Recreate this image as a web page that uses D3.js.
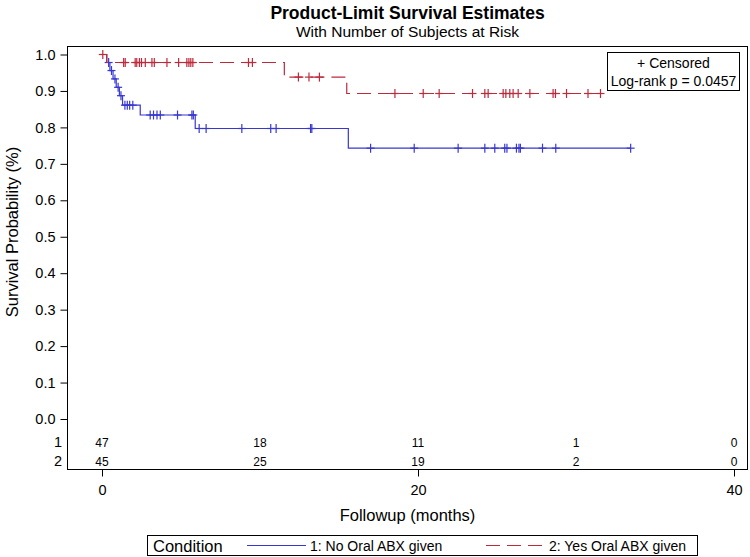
<!DOCTYPE html>
<html>
<head>
<meta charset="utf-8">
<script src="https://cdn.jsdelivr.net/npm/d3@7"></script>
<style>
  html, body { margin: 0; padding: 0; background: #fff; }
  svg { display: block; font-family: "Liberation Sans", Arial, sans-serif; }
</style>
</head>
<body>
<svg id="chart" width="750" height="557"></svg>
<script>
// ---------- data ----------
const groups = ["1: No Oral ABX given", "2: Yes Oral ABX given"];

// group 1 (No Oral ABX): event times and survival after each event
const noEventTimes = [0.3, 0.5, 0.7, 0.9, 1.1, 1.3, 2.42, 5.9, 15.59];
const noSurvival   = [0.978, 0.956, 0.933, 0.91, 0.887, 0.861, 0.834, 0.797, 0.743];
const noCensorTimes = [0.42, 0.6, 0.82, 1.02, 1.2, 1.45, 1.6, 1.75, 1.95,
  3.05, 3.26, 3.48, 3.69, 4.78, 5.69, 5.78, 6.15, 6.59, 8.85, 10.68, 11.02,
  13.2, 13.28, 17.0, 19.76, 22.54, 24.23, 24.86, 25.49, 25.63, 26.23, 26.39,
  26.48, 27.88, 28.72, 33.46];

// group 2 (Yes Oral ABX)
const yesEventTimes = [0.3, 11.54, 15.49];
const yesSurvival   = [0.978, 0.938, 0.893];
const yesCensorTimes = [0.05, 1.37, 1.47, 2.1, 2.2, 2.37, 2.5, 2.74, 3.16, 3.31,
  4.11, 4.85, 5.37, 5.5, 5.62, 5.75, 9.27, 9.52, 12.43, 13.1, 13.76, 18.54,
  20.33, 21.34, 23.45, 24.23, 24.44, 25.39, 25.56, 25.81, 26.02, 26.34, 27.08,
  28.55, 28.7, 29.4, 30.76, 31.55];

// number at risk table
const riskTimes = [0, 10, 20, 30, 40];
const riskNo  = [47, 18, 11, 1, 0];
const riskYes = [45, 25, 19, 2, 0];
const riskLabels = ["1", "2"];

const xTicks = [0, 20, 40];
const yTicks = [0, 0.1, 0.2, 0.3, 0.4, 0.5, 0.6, 0.7, 0.8, 0.9, 1.0];

const titleText = "Product-Limit Survival Estimates";
const subtitleText = "With Number of Subjects at Risk";
const xLabel = "Followup (months)";
const yLabel = "Survival Probability (%)";
const legendTitle = "Condition";
const insetLines = ["+ Censored", "Log-rank p = 0.0457"];

// ---------- layout ----------
const svg = d3.select("#chart");
const frame = {left: 67, right: 748, top: 46, bottom: 469};
const blue = "#3838d0", red = "#bd2a3c";
const font = "Liberation Sans, Arial, sans-serif";

const x = d3.scaleLinear().domain([0, 40]).range([102, 734]);
const y = d3.scaleLinear().domain([0, 1]).range([419, 54.5]);

// titles
const cx = (frame.left + frame.right) / 2;
svg.append("text").attr("x", cx).attr("y", 19).attr("text-anchor", "middle")
  .attr("font-size", 17.5).attr("font-weight", "bold").text(titleText);
svg.append("text").attr("x", cx).attr("y", 37).attr("text-anchor", "middle")
  .attr("font-size", 15.5).text(subtitleText);

// frame
svg.append("rect").attr("x", frame.left + 0.5).attr("y", frame.top + 0.5)
  .attr("width", frame.right - frame.left - 1).attr("height", frame.bottom - frame.top)
  .attr("fill", "none").attr("stroke", "#000").attr("stroke-width", 1);

// y axis
const yAxis = d3.axisLeft(y).tickValues(yTicks).tickFormat(d3.format(".1f"))
  .tickSize(7).tickPadding(5);
const gy = svg.append("g").attr("transform", `translate(${frame.left + 0.5},0)`).call(yAxis);
gy.select(".domain").remove();
gy.selectAll("text").attr("font-size", 14.5).attr("font-family", font);

// x axis
const xAxis = d3.axisBottom(x).tickValues(xTicks).tickFormat(d3.format("d"))
  .tickSize(7).tickPadding(8);
const gx = svg.append("g").attr("transform", `translate(0,${frame.bottom + 0.5})`).call(xAxis);
gx.select(".domain").remove();
gx.selectAll("text").attr("font-size", 14.5).attr("font-family", font);

// axis labels
svg.append("text").attr("x", cx).attr("y", 521).attr("text-anchor", "middle")
  .attr("font-size", 16.5).text(xLabel);
svg.append("text").attr("transform", `translate(18,232) rotate(-90)`)
  .attr("text-anchor", "middle").attr("font-size", 16.5).text(yLabel);

// survival curves
function stepPoints(times, surv, endTime) {
  const pts = [[0, 1]];
  times.forEach((t, i) => pts.push([t, surv[i]]));
  pts.push([endTime, surv[surv.length - 1]]);
  return pts;
}
function survAt(times, surv, t) {
  let s = 1;
  times.forEach((et, i) => { if (et <= t) s = surv[i]; });
  return s;
}
const line = d3.line().x(d => x(d[0])).y(d => y(d[1])).curve(d3.curveStepAfter);

const series = [
  {times: noEventTimes, surv: noSurvival, cens: noCensorTimes, color: blue, dash: null},
  {times: yesEventTimes, surv: yesSurvival, cens: yesCensorTimes, color: red, dash: "14,7"}
];
series.forEach(s => {
  const end = d3.max(s.cens);
  svg.append("path").datum(stepPoints(s.times, s.surv, end))
    .attr("d", line).attr("fill", "none").attr("stroke", s.color)
    .attr("stroke-width", 1.2).attr("stroke-dasharray", s.dash);
  const g = svg.append("g").attr("stroke", s.color).attr("stroke-width", 1.2);
  s.cens.forEach(t => {
    const px = x(t), py = y(survAt(s.times, s.surv, t));
    g.append("line").attr("x1", px).attr("x2", px).attr("y1", py - 4.5).attr("y2", py + 4.5);
    g.append("line").attr("x1", px - 4).attr("x2", px + 4).attr("y1", py).attr("y2", py);
  });
});

// at-risk table
const riskRows = [riskNo, riskYes];
const rowY = [446.5, 465.5];
riskRows.forEach((row, r) => {
  svg.append("text").attr("x", 62).attr("y", rowY[r] + 0.5).attr("text-anchor", "end")
    .attr("font-size", 14.5).text(riskLabels[r]);
  row.forEach((v, i) => {
    svg.append("text").attr("x", x(riskTimes[i])).attr("y", rowY[r])
      .attr("text-anchor", "middle").attr("font-size", 12)
      .attr("font-family", "Liberation Sans Narrow, Liberation Sans, Arial, sans-serif")
      .text(v);
  });
});

// inset legend
svg.append("rect").attr("x", 607.5).attr("y", 52.5).attr("width", 132).attr("height", 38)
  .attr("fill", "#fff").attr("stroke", "#000");
insetLines.forEach((t, i) => {
  svg.append("text").attr("x", 673.5).attr("y", 68 + i * 18).attr("text-anchor", "middle")
    .attr("font-size", 14).text(t);
});

// bottom legend
svg.append("rect").attr("x", 147.5).attr("y", 535.5).attr("width", 550).attr("height", 20)
  .attr("fill", "#fff").attr("stroke", "#000");
svg.append("text").attr("x", 153).attr("y", 551.5).attr("font-size", 16.5).text(legendTitle);
const legItems = [
  {x0: 247, x1: 306, tx: 310, color: blue, dash: null},
  {x0: 486, x1: 544, tx: 549, color: red, dash: "14,7"}
];
legItems.forEach((it, i) => {
  svg.append("line").attr("x1", it.x0).attr("x2", it.x1).attr("y1", 545.5).attr("y2", 545.5)
    .attr("stroke", it.color).attr("stroke-width", 1.2).attr("stroke-dasharray", it.dash);
  svg.append("text").attr("x", it.tx).attr("y", 551).attr("font-size", 14).text(groups[i]);
});
</script>
</body>
</html>
